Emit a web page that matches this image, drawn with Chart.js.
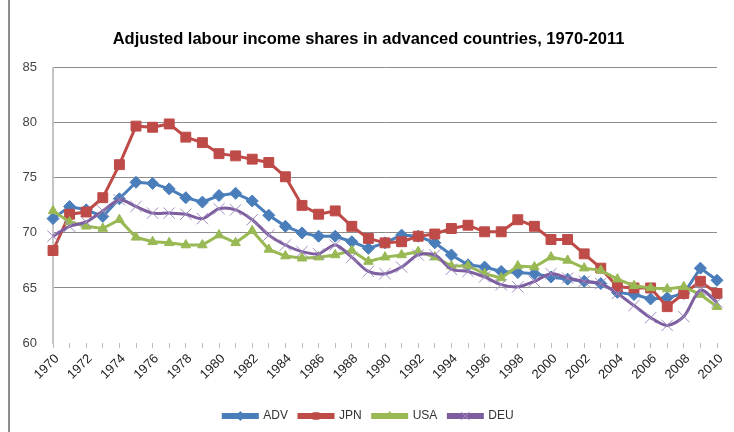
<!DOCTYPE html>
<html>
<head>
<meta charset="utf-8">
<title>Adjusted labour income shares</title>
<script src="https://cdn.jsdelivr.net/npm/chart.js@4.4.1/dist/chart.umd.min.js"></script>
<style>
	body { margin: 0; background: #fff; }
	canvas { display: block; }
</style>
</head>
<body>
<canvas id="out" width="734" height="432"></canvas>
<script>
const years = [];
for (let y = 1970; y <= 2010; y++) years.push(String(y));

const adv = [71.3, 72.4, 72.1, 71.5, 73.1, 74.6, 74.5, 74.0, 73.2, 72.8,
	73.4, 73.6, 72.9, 71.6, 70.6, 70.0, 69.7, 69.7, 69.2, 68.6,
	69.1, 69.8, 69.7, 69.1, 68.0, 67.1, 66.9, 66.5, 66.4, 66.3,
	66.0, 65.8, 65.6, 65.4, 64.6, 64.4, 64.0, 64.1, 64.5, 66.8, 65.7];
const jpn = [68.4, 71.7, 71.9, 73.2, 76.2, 79.7, 79.6, 79.9, 78.7, 78.2,
	77.2, 77.0, 76.7, 76.4, 75.1, 72.5, 71.7, 72.0, 70.6, 69.5,
	69.1, 69.2, 69.7, 69.9, 70.4, 70.7, 70.1, 70.1, 71.2, 70.6,
	69.4, 69.4, 68.1, 66.8, 65.1, 65.0, 65.0, 63.3, 64.5, 65.6, 64.5];
const usa = [72.0, 71.0, 70.6, 70.4, 71.2, 69.6, 69.2, 69.1, 68.9, 68.9,
	69.8, 69.1, 70.2, 68.5, 67.9, 67.7, 67.8, 68.0, 68.4, 67.4,
	67.8, 68.0, 68.3, 67.8, 67.0, 67.0, 66.3, 65.9, 67.0, 66.9,
	67.8, 67.5, 66.8, 66.6, 65.8, 65.2, 65.0, 64.9, 65.1, 64.4, 63.3];
const deu = [69.7, 70.6, 71.0, 72.0, 73.0, 72.4, 71.8, 71.8, 71.7, 71.3,
	72.2, 72.1, 71.2, 69.8, 68.9, 68.3, 68.1, 68.9, 67.8, 66.5,
	66.3, 66.9, 68.0, 68.0, 66.7, 66.5, 66.0, 65.3, 65.1, 65.6,
	66.3, 65.9, 65.6, 65.4, 64.5, 63.4, 62.3, 61.6, 62.4, 64.8, 63.7];

const fontFamily = "'Liberation Sans', Arial, sans-serif";

// left frame line of the original picture
const framePlugin = {
	id: "frame",
	beforeDraw(chart) {
		const ctx = chart.ctx;
		ctx.save();
		ctx.fillStyle = "#fff";
		ctx.fillRect(0, 0, chart.width, chart.height);
		ctx.fillStyle = "#8c8c8c";
		ctx.fillRect(8, 0, 2, chart.height);
		ctx.restore();
	}
};

// draw the marker on top of each legend line, like Excel does
const legendMarkers = {
	id: "legendMarkers",
	afterDraw(chart) {
		const legend = chart.legend;
		if (!legend || !legend.legendHitBoxes || !Chart.helpers) return;
		const ctx = chart.ctx;
		const boxW = legend.options.labels.boxWidth;
		legend.legendItems.forEach(function(item, i) {
			const hb = legend.legendHitBoxes[i];
			const ds = chart.data.datasets[item.datasetIndex];
			ctx.save();
			ctx.fillStyle = ds.pointBackgroundColor;
			ctx.strokeStyle = ds.pointBorderColor;
			ctx.lineWidth = 1;
			Chart.helpers.drawPoint(ctx, {
				pointStyle: ds.pointStyle,
				radius: ds.pointStyle === "crossRot" ? 6 : 4.5,
				rotation: 0,
				borderWidth: 1
			}, hb.left + boxW / 2, hb.top + hb.height / 2);
			ctx.restore();
		});
	}
};

function series(label, data, color, style, radius, order, extra) {
	const ds = {
		label: label,
		data: data,
		borderColor: color,
		backgroundColor: color,
		borderWidth: 3,
		pointStyle: style,
		pointRadius: radius,
		pointHoverRadius: radius,
		pointBackgroundColor: color,
		pointBorderColor: color,
		pointBorderWidth: 1,
		tension: 0,
		order: order
	};
	return Object.assign(ds, extra || {});
}

const chartConfig = {
	type: "line",
	data: {
		labels: years,
		datasets: [
			series("ADV", adv, "#4a7ebb", "rectRot", 6, 4),
			series("JPN", jpn, "#be4b48", "rect", 7, 3),
			series("USA", usa, "#98b954", "triangle", 5.5, 2),
			series("DEU", deu, "#7d5fa0", "crossRot", 8, 1, {
				pointBorderColor: "#a08cc0",
				tension: 0.3
			})
		]
	},
	options: {
		responsive: false,
		animation: false,
		devicePixelRatio: 1,
		layout: {
			padding: { left: 20, right: 17, top: 0, bottom: 0 }
		},
		plugins: {
			title: {
				display: true,
				text: "Adjusted labour income shares in advanced countries, 1970-2011",
				color: "#000",
				font: { family: fontFamily, size: 16.5, weight: "bold" },
				padding: { top: 30, bottom: 18 }
			},
			legend: {
				position: "bottom",
				labels: {
					boxWidth: 34,
					boxHeight: 3,
					padding: 11,
					color: "#333",
					font: { family: fontFamily, size: 12 },
					sort: (a, b) => a.datasetIndex - b.datasetIndex
				}
			},
			tooltip: { enabled: false }
		},
		scales: {
			x: {
				grid: {
					drawOnChartArea: false,
					drawTicks: true,
					tickLength: 5,
					color: "#bbb"
				},
				border: { display: false },
				ticks: {
					autoSkip: false,
					minRotation: 45,
					maxRotation: 45,
					labelOffset: 4,
					color: "#222",
					font: { family: fontFamily, size: 13 },
					callback: function(value, index) {
						return index % 2 === 0 ? this.getLabelForValue(value) : "";
					}
				},
				afterFit: function(scale) {
					scale.height = 56;
				}
			},
			y: {
				min: 60,
				max: 85,
				grid: {
					drawTicks: false,
					color: (c) => (c.tick && c.tick.value === 60 ? "rgba(0,0,0,0)" : "#8c8c8c")
				},
				border: { display: true, color: "#c4c4c4", width: 2 },
				ticks: {
					stepSize: 5,
					padding: 16,
					color: "#444",
					font: { family: fontFamily, size: 13 }
				},
				afterFit: function(scale) {
					scale.width = 33;
				}
			}
		}
	},
	plugins: [framePlugin, legendMarkers]
};

const canvasCtx = document.getElementById("out").getContext("2d");
window.chart = new Chart(canvasCtx, chartConfig);
</script>
</body>
</html>
